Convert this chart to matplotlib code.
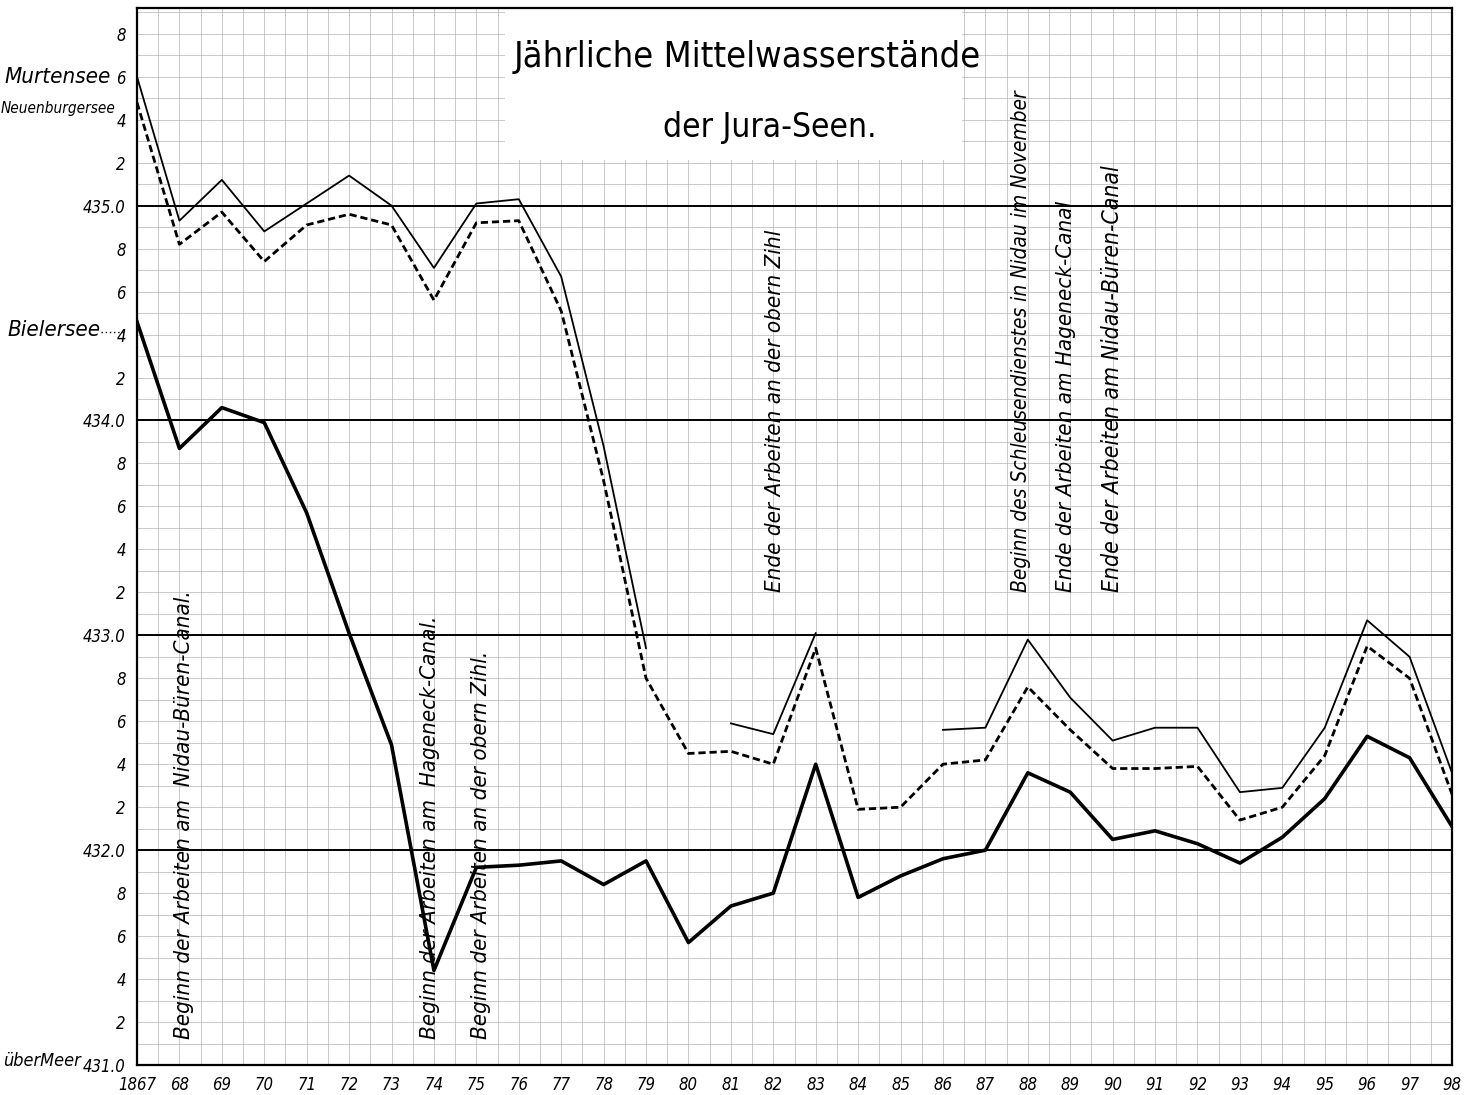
import numpy as np
import matplotlib
matplotlib.use('Agg')
import matplotlib.pyplot as plt
from matplotlib import font_manager as fm
from matplotlib.ticker import MultipleLocator
from matplotlib.transforms import blended_transform_factory
from matplotlib.patches import Rectangle

nan = np.nan
years = list(range(1867, 1899))
year_labels = ['1867'] + [str(y)[2:] for y in years[1:]]

murtensee = [435.60, 434.93, 435.12, 434.88, 435.01, 435.14, 435.00, 434.71, 435.01, 435.03,
             434.67, 433.88, 432.94, nan, 432.59, 432.54, 433.01, nan, nan, 432.56,
             432.57, 432.98, 432.71, 432.51, 432.57, 432.57, 432.27, 432.29, 432.57, 433.07,
             432.90, 432.36]
neuenburgersee = [435.48, 434.82, 434.97, 434.74, 434.91, 434.96, 434.91, 434.56, 434.92, 434.93,
                  434.51, 433.72, 432.80, 432.45, 432.46, 432.40, 432.94, 432.19, 432.20, 432.40,
                  432.42, 432.76, 432.56, 432.38, 432.38, 432.39, 432.14, 432.20, 432.44, 432.95,
                  432.80, 432.26]
bielersee = [434.46, 433.87, 434.06, 433.99, 433.57, 433.01, 432.49, 431.44, 431.92, 431.93,
             431.95, 431.84, 431.95, 431.57, 431.74, 431.80, 432.40, 431.78, 431.88, 431.96,
             432.00, 432.36, 432.27, 432.05, 432.09, 432.03, 431.94, 432.06, 432.24, 432.53,
             432.43, 432.11]

events = [
    (1868.1, 'bottom', "Beginn der Arbeiten am  Nidau-Büren-Canal."),
    (1873.9, 'bottom', "Beginn der Arbeiten am  Hageneck-Canal."),
    (1875.1, 'bottom', "Beginn der Arbeiten an der obern Zihl."),
    (1882.05, 'top', "Ende der Arbeiten an der obern Zihl"),
    (1887.85, 'top', "Beginn des Schleusendienstes in Nidau im November"),
    (1888.9, 'top', "Ende der Arbeiten am Hageneck-Canal"),
    (1890.0, 'top', "Ende der Arbeiten am Nidau-Büren-Canal"),
]
event_sizes = [16, 16, 16, 16, 15, 16, 16.5]

names = {f.name for f in fm.fontManager.ttflist}
if 'Liberation Sans Narrow' in names:
    FAM = ['Liberation Sans Narrow', 'DejaVu Sans']
    STR = 'normal'
else:
    FAM = ['DejaVu Sans']
    STR = 'condensed'
plt.rcParams['font.family'] = FAM

fig = plt.figure(figsize=(14.74, 10.95), dpi=100)
ax = fig.add_axes([137/1474, 1 - 1065/1095, (1452-137)/1474, (1065-8)/1095])
ax.set_xlim(1867, 1898)
ax.set_ylim(431.0, 435.92)
ax.set_axisbelow(True)

# grid
ax.xaxis.set_minor_locator(MultipleLocator(0.5))
ax.yaxis.set_minor_locator(MultipleLocator(0.1))
ax.grid(which='both', axis='both', color='#b4b4b4', lw=0.5)
for lvl in range(432, 436):
    ax.axhline(lvl, color='black', lw=1.4, zorder=1)

# title box
ax.add_patch(Rectangle((0.280, 0.856), 0.347, 0.143, transform=ax.transAxes,
                       facecolor='white', edgecolor='none', zorder=1.8))
ax.text(0.464, 0.954, "Jährliche Mittelwasserstände", transform=ax.transAxes,
        ha='center', va='center', fontsize=26, fontstretch=STR, zorder=3)
ax.text(0.481, 0.887, "der Jura-Seen.", transform=ax.transAxes,
        ha='center', va='center', fontsize=24, fontstretch=STR, zorder=3)

# lines
ax.plot(years, murtensee, color='black', lw=1.3, zorder=2)
ax.plot(years, neuenburgersee, color='black', lw=2.0, ls=(0, (2.6, 1.4)), zorder=2)
ax.plot(years, bielersee, color='black', lw=2.6, zorder=2)

# event labels
for (x, pos, txt), fs in zip(events, event_sizes):
    y0 = 431.12 if pos == 'bottom' else 433.2
    ax.text(x, y0, txt, rotation=90, ha='center', va='bottom', fontsize=fs,
            style='italic', fontstretch=STR, zorder=3)

# ticks
yt = np.round(np.arange(431.0, 435.81, 0.2), 1)
ylab = [f"{v:.1f}" if abs(v - round(v)) < 1e-6 else str(int(round(v * 10)) % 10) for v in yt]
ax.set_yticks(yt)
ax.set_yticklabels(ylab, fontsize=12, style='italic', fontstretch=STR)
ax.set_xticks(years)
ax.set_xticklabels(year_labels, fontsize=12, style='italic', fontstretch=STR)
ax.tick_params(which='both', length=0, pad=8)

for s in ax.spines.values():
    s.set_linewidth(1.6)
    s.set_color('black')

tr = blended_transform_factory(ax.transAxes, ax.transData)
ax.text(-0.020, 435.6, "Murtensee", transform=tr, ha='right', va='center',
        fontsize=16, style='italic', fontstretch=STR)
ax.text(-0.016, 435.45, "Neuenburgersee", transform=tr, ha='right', va='center',
        fontsize=11, style='italic', fontstretch=STR)
ax.text(-0.028, 434.42, "Bielersee", transform=tr, ha='right', va='center',
        fontsize=16, style='italic', fontstretch=STR)
ax.plot([-0.027, -0.010], [434.41, 434.41], transform=tr, ls=(0, (1, 2)), color='black',
        lw=1, clip_on=False)
ax.text(-0.043, 431.02, "überMeer", transform=tr, ha='right', va='center',
        fontsize=13, style='italic', fontstretch=STR)

fig.savefig('out.png', dpi=100, facecolor='white')
